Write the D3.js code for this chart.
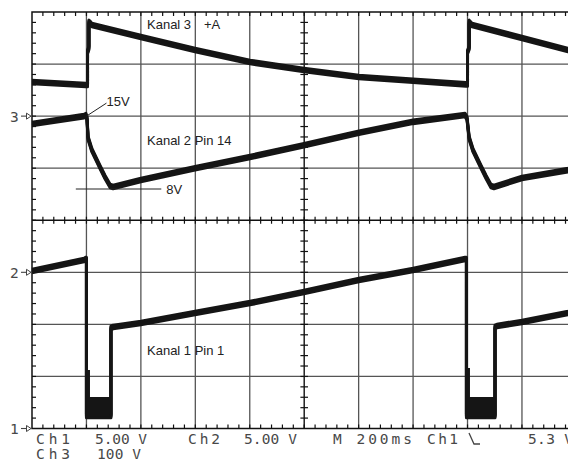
<!DOCTYPE html>
<html>
<head>
<meta charset="utf-8">
<script src="https://cdnjs.cloudflare.com/ajax/libs/d3/7.8.5/d3.min.js"></script>
<style>
  body { margin: 0; background: #fff; }
  svg { display: block; }
  .lbl { font-family: "Liberation Sans", Arial, sans-serif; font-size: 13px; fill: #222; }
  .scope { font-family: "DejaVu Sans Mono", monospace; font-size: 14.5px; fill: #484848; }
</style>
</head>
<body>
<svg width="568" height="459"></svg>
<script>
// channel settings: ground level (divisions from centre) and volts per division
var chGnd  = {1: -4, 2: -1, 3: 2};
var chVdiv = {1: 5, 2: 5, 3: 100};

// Kanal 3 (+A), time in ms, value in V
var ch3T = [0, 198, 204, 204, 209, 209, 213, 220, 400, 599, 801, 999, 1201, 1400, 1594, 1600, 1600, 1606, 1606, 1609, 1617, 1800, 1969, 2000];
var ch3V = [65.5, 59.7, 59.7, 123, 131, 181, 179, 175, 152, 127, 104, 88.6, 75, 68, 61, 61, 123, 131, 181, 179, 175, 150, 127, 123];

// Kanal 2 Pin 14
var ch2T = [0, 191, 198, 202, 206, 220, 250, 268, 287, 298, 400, 599, 801, 999, 1201, 1400, 1591, 1598, 1606, 1620, 1650, 1668, 1686, 1697, 1800, 1969, 2000];
var ch2V = [14.24, 15.0, 15.1, 14.8, 12.9, 11.73, 10.1, 9.15, 8.29, 8.19, 8.86, 10.0, 11.07, 12.2, 13.4, 14.45, 15.1, 14.8, 12.9, 11.73, 10.1, 9.15, 8.29, 8.19, 9.06, 9.82, 10.0];

// Kanal 1 Pin 1
var ch1T = [0, 191, 198, 200, 200, 290, 290, 298, 400, 599, 801, 999, 1201, 1400, 1591, 1596, 1596, 1701, 1701, 1708, 1800, 1969, 2000];
var ch1V = [15.13, 16.18, 16.28, 16.28, 1.2, 1.2, 9.65, 9.75, 10.13, 11.09, 12.05, 13.11, 14.26, 15.22, 16.28, 16.28, 1.2, 1.2, 9.75, 9.84, 10.23, 11.09, 11.28];

// Kanal 1 noise bursts while low: envelope (upper / lower)
var burstT  = [200, 213, 290, 1596, 1609, 1701];
var burstHi = [5.62, 3.03, 3.03, 5.81, 3.03, 3.03];
var burstLo = [1.2, 1.39, 1.2, 1.2, 1.39, 1.2];

// readout texts
var readout1 = ["Ch1", "5.00 V", "Ch2", "5.00 V", "M 200ms", "Ch1", "5.3 V"];
var readout2 = ["Ch3", "100 V"];

var svg = d3.select("svg");

var x = d3.scaleLinear().domain([0, 2000]).range([32, 576.4]);
var yDiv = d3.scaleLinear().domain([-4, 4]).range([428.5, 12]);
function yCh(ch) {
  return function(v) { return yDiv(chGnd[ch] + v / chVdiv[ch]); };
}

// graticule
var grid = svg.append("g");
d3.range(1, 10).forEach(function(i) {
  grid.append("line")
    .attr("x1", x(i * 200)).attr("x2", x(i * 200))
    .attr("y1", yDiv(4)).attr("y2", yDiv(-4))
    .attr("stroke", i == 5 ? "#111" : "#555")
    .attr("stroke-width", i == 5 ? 1.4 : 1.3);
});
d3.range(-3, 4).forEach(function(d) {
  grid.append("line")
    .attr("x1", x(0)).attr("x2", x(2000))
    .attr("y1", yDiv(d)).attr("y2", yDiv(d))
    .attr("stroke", d == 0 ? "#111" : "#555")
    .attr("stroke-width", d == 0 ? 1.4 : 1.3);
});
// border
grid.append("path")
  .attr("d", "M" + x(2000) + "," + yDiv(4) + "H" + x(0) + "V" + yDiv(-4) + "H" + x(2000))
  .attr("fill", "none").attr("stroke", "#111").attr("stroke-width", 1.5);

// minor ticks
var tk = svg.append("g").attr("stroke", "#111").attr("stroke-width", 1.2);
d3.range(1, 50).forEach(function(i) {
  var xx = x(i * 40);
  tk.append("line").attr("x1", xx).attr("x2", xx).attr("y1", yDiv(4)).attr("y2", yDiv(4) + 4);
  tk.append("line").attr("x1", xx).attr("x2", xx).attr("y1", yDiv(-4)).attr("y2", yDiv(-4) - 4);
  tk.append("line").attr("x1", xx).attr("x2", xx).attr("y1", yDiv(0) - 3.5).attr("y2", yDiv(0) + 3.5);
});
d3.range(1, 40).forEach(function(i) {
  var yy = yDiv(-4 + i * 0.2);
  tk.append("line").attr("x1", x(0)).attr("x2", x(0) + 4).attr("y1", yy).attr("y2", yy);
  tk.append("line").attr("x1", x(1000) - 3.8).attr("x2", x(1000) + 3.8).attr("y1", yy).attr("y2", yy);
});

// traces (smeared vertically like the scope display)
function drawTrace(T, V, ch) {
  var yc = yCh(ch);
  var pts = T.map(function(t, i) { return [t, V[i]]; });
  var line = d3.line().x(function(d) { return x(d[0]); }).y(function(d) { return yc(d[1]); });
  [-1.8, -0.6, 0.6, 1.8].forEach(function(dy) {
    svg.append("path")
      .attr("d", line(pts))
      .attr("transform", "translate(0," + dy + ")")
      .attr("fill", "none")
      .attr("stroke", "#151515")
      .attr("stroke-width", 3)
      .attr("stroke-linejoin", "round");
  });
}
drawTrace(ch3T, ch3V, 3);
drawTrace(ch2T, ch2V, 2);
drawTrace(ch1T, ch1V, 1);

// noise bursts of Kanal 1
var y1 = yCh(1);
var burst = d3.area()
  .x(function(d) { return x(d.t); })
  .y0(function(d) { return y1(d.lo); })
  .y1(function(d) { return y1(d.hi); })
  .curve(d3.curveStepAfter);
[[0, 3], [3, 6]].forEach(function(r) {
  var seg = d3.range(r[0], r[1]).map(function(i) { return {t: burstT[i], hi: burstHi[i], lo: burstLo[i]}; });
  svg.append("path").attr("d", burst(seg)).attr("fill", "#151515");
});

// annotations
var y2 = yCh(2);
svg.append("line")
  .attr("x1", x(200)).attr("y1", y2(15))
  .attr("x2", x(200) + 20).attr("y2", y2(15) - 13)
  .attr("stroke", "#222").attr("stroke-width", 1);
svg.append("text").attr("class", "lbl").attr("x", x(200) + 20).attr("y", y2(15) - 10).text("15V");
svg.append("line")
  .attr("x1", x(161)).attr("x2", x(475))
  .attr("y1", y2(8)).attr("y2", y2(8))
  .attr("stroke", "#222").attr("stroke-width", 1);
svg.append("text").attr("class", "lbl").attr("x", x(475) + 5).attr("y", y2(8) + 5).text("8V");

svg.append("text").attr("class", "lbl").attr("x", 147).attr("y", 29).text("Kanal 3");
svg.append("text").attr("class", "lbl").attr("x", 204).attr("y", 29).text("+A");
svg.append("text").attr("class", "lbl").attr("x", 147).attr("y", 145).text("Kanal 2 Pin 14");
svg.append("text").attr("class", "lbl").attr("x", 147).attr("y", 355).text("Kanal 1 Pin 1");

// ground markers
[3, 2, 1].forEach(function(ch) {
  var yy = yDiv(chGnd[ch]);
  svg.append("text").attr("class", "scope").attr("x", 10).attr("y", yy + 5.5).text(ch);
  svg.append("line").attr("x1", 21).attr("x2", 27).attr("y1", yy).attr("y2", yy)
    .attr("stroke", "#444").attr("stroke-width", 1.1);
  svg.append("path").attr("d", "M26.5," + (yy - 3) + "L31," + yy + "L26.5," + (yy + 3) + "Z")
    .attr("fill", "#fff").attr("stroke", "#444").attr("stroke-width", 1);
});

// readout
var pos1 = [[36, 34], [95, 52], [188, 32], [244, 53], [333, 79], [427, 31], [528, 45]];
readout1.forEach(function(s, i) {
  svg.append("text").attr("class", "scope")
    .attr("x", pos1[i][0]).attr("y", 444)
    .attr("textLength", pos1[i][1]).attr("lengthAdjust", "spacing")
    .text(s);
});
var pos2 = [[36, 34], [97, 44]];
readout2.forEach(function(s, i) {
  svg.append("text").attr("class", "scope")
    .attr("x", pos2[i][0]).attr("y", 459)
    .attr("textLength", pos2[i][1]).attr("lengthAdjust", "spacing")
    .text(s);
});
// falling-edge trigger symbol
svg.append("path").attr("d", "M469,433L474,444H480")
  .attr("fill", "none").attr("stroke", "#444").attr("stroke-width", 1.3);
</script>
</body>
</html>
